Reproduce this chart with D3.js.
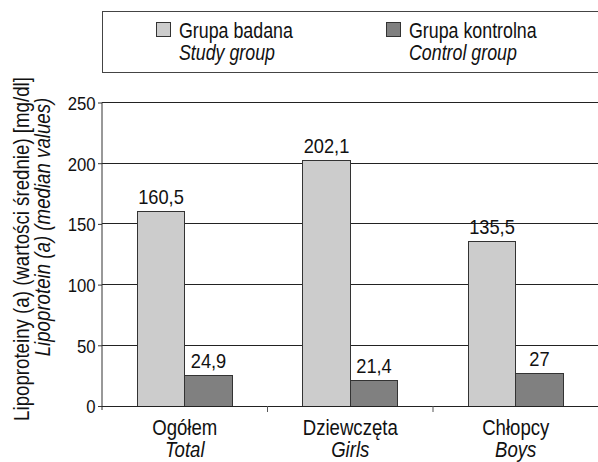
<!DOCTYPE html>
<html>
<head>
<meta charset="utf-8">
<script src="https://cdn.jsdelivr.net/npm/d3@7"></script>
<style>
  html, body { margin: 0; padding: 0; background: #fff; }
  svg { display: block; }
  text { font-family: "Liberation Sans", Arial, sans-serif; fill: #111; }
</style>
</head>
<body>
<svg id="chart" width="598" height="462"></svg>
<script>
// ---- data ----
const categories = ["Ogółem", "Dziewczęta", "Chłopcy"];
const categoriesEn = ["Total", "Girls", "Boys"];
const seriesKeys = ["study", "control"];
const seriesNames = ["Grupa badana", "Grupa kontrolna"];
const seriesNamesEn = ["Study group", "Control group"];
const studyValues = [160.5, 202.1, 135.5];
const controlValues = [24.9, 21.4, 27];
const yTicks = [0, 50, 100, 150, 200, 250];
const yTitle = "Lipoproteiny (a) (wartości średnie) [mg/dl]";
const yTitleEn = "Lipoprotein (a) (median values)";

const seriesValues = { study: studyValues, control: controlValues };
const colors = { study: "#cccccc", control: "#808080" };

const svg = d3.select("#chart");
const pLeft = 102, pRight = 598.5, pTop = 102.5, pBottom = 406;

const x = d3.scaleBand().domain(categories).range([pLeft, pRight]).paddingInner(0).paddingOuter(0);
const xs = d3.scaleBand().domain(seriesKeys).range([0, x.bandwidth()]).paddingInner(0).paddingOuter(0.742);
const y = d3.scaleLinear().domain([0, 250]).range([pBottom, pTop]);

const fmt = v => String(v).replace(".", ",");

// helper: place a horizontally condensed text at (tx, ty)
function place(sel, tx, ty, sx, rot) {
  sel.attr("x", 0).attr("y", 0)
     .attr("transform", (d, i) => {
       const X = typeof tx === "function" ? tx(d, i) : tx;
       const Y = typeof ty === "function" ? ty(d, i) : ty;
       return `translate(${X},${Y})` + (rot ? ` rotate(${rot})` : "") + ` scale(${sx},1)`;
     });
  return sel;
}

// gridlines
svg.append("g").selectAll("line").data(yTicks.filter(d => d > 0)).join("line")
  .attr("x1", pLeft).attr("x2", 598).attr("y1", d => y(d)).attr("y2", d => y(d))
  .attr("stroke", "#222").attr("stroke-width", 1).attr("shape-rendering", "crispEdges");

// bars
const groups = svg.append("g").selectAll("g").data(categories).join("g")
  .attr("transform", d => `translate(${x(d)},0)`);
groups.selectAll("rect").data((c, i) => seriesKeys.map(k => ({ k, v: seriesValues[k][i] }))).join("rect")
  .attr("x", d => xs(d.k)).attr("width", xs.bandwidth())
  .attr("y", d => y(d.v)).attr("height", d => y(0) - y(d.v))
  .attr("fill", d => colors[d.k]).attr("stroke", "#333").attr("stroke-width", 1)
  .attr("shape-rendering", "crispEdges");
const vl = groups.selectAll("text").data((c, i) => seriesKeys.map(k => ({ k, v: seriesValues[k][i] }))).join("text")
  .attr("text-anchor", "middle").attr("font-size", 21).text(d => fmt(d.v));
place(vl, d => xs(d.k) + xs.bandwidth() / 2, d => y(d.v) - 7.5, 0.87);

// y axis
const yAxis = svg.append("g").attr("transform", `translate(${pLeft},0)`)
  .call(d3.axisLeft(y).tickValues(yTicks).tickSize(4).tickPadding(3).tickFormat(d => d));
yAxis.selectAll("line, path").attr("stroke", "#333");
yAxis.select(".domain").attr("d", `M0,${pTop}V${pBottom + 4}`);
const yt = yAxis.selectAll(".tick text").attr("font-size", 19).attr("fill", "#111")
  .attr("font-family", null).attr("dy", null).attr("text-anchor", "end");
place(yt, -6.5, 6.8, 0.88);

// x axis
const xAxisG = svg.append("g");
xAxisG.append("line").attr("x1", pLeft).attr("x2", 598).attr("y1", pBottom).attr("y2", pBottom)
  .attr("stroke", "#222").attr("shape-rendering", "crispEdges");
xAxisG.selectAll("line.tk").data(categories.slice(1)).join("line").attr("class", "tk")
  .attr("x1", d => x(d)).attr("x2", d => x(d)).attr("y1", pBottom).attr("y2", pBottom + 6)
  .attr("stroke", "#555");
const catTop = xAxisG.selectAll("text.c1").data(categories).join("text").attr("class", "c1")
  .attr("text-anchor", "middle").attr("font-size", 22).text(d => d);
place(catTop, d => x(d) + x.bandwidth() / 2, 435, 0.845);
const catBot = xAxisG.selectAll("text.c2").data(categoriesEn).join("text").attr("class", "c2")
  .attr("text-anchor", "middle").attr("font-size", 22).attr("font-style", "italic").text(d => d);
place(catBot, (d, i) => x(categories[i]) + x.bandwidth() / 2, 457, 0.845);

// y title
place(svg.append("text").attr("text-anchor", "middle").attr("font-size", 22).text(yTitle), 29, 249, 0.85, -90);
place(svg.append("text").attr("text-anchor", "middle").attr("font-size", 22).attr("font-style", "italic")
  .text(yTitleEn), 50, 227, 0.85, -90);

// legend
svg.append("rect").attr("x", 102.5).attr("y", 11.5).attr("width", 520).attr("height", 61)
  .attr("fill", "none").attr("stroke", "#444");
const legX = [156, 386];
const lg = svg.append("g").selectAll("g").data(seriesKeys).join("g")
  .attr("transform", (d, i) => `translate(${legX[i]},0)`);
lg.append("rect").attr("x", 0.5).attr("y", 22.5).attr("width", 14).attr("height", 14)
  .attr("fill", d => colors[d]).attr("stroke", "#333");
place(lg.append("text").attr("font-size", 22).text((d, i) => seriesNames[i]), 23, 37.5, 0.81);
place(lg.append("text").attr("font-size", 22).attr("font-style", "italic")
  .text((d, i) => seriesNamesEn[i]), 23, 59.5, 0.81);
</script>
</body>
</html>
